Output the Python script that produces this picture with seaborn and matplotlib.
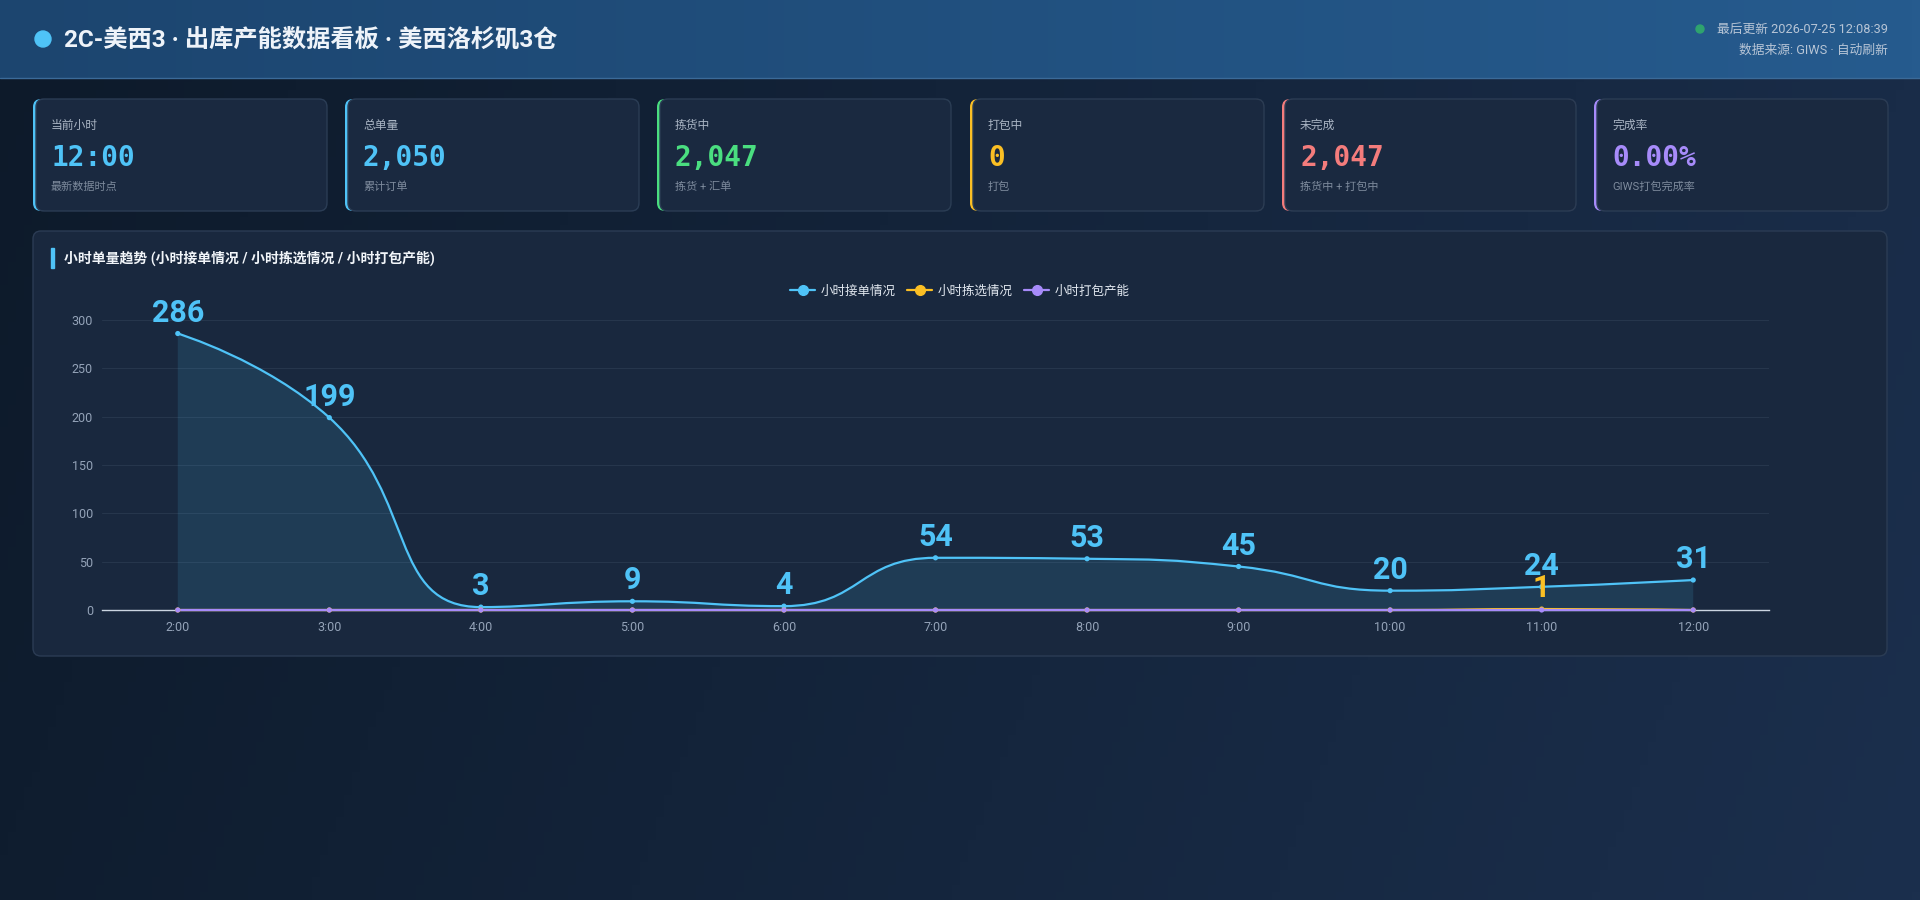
import numpy as np
import pandas as pd
import seaborn as sns
import matplotlib.pyplot as plt
from matplotlib.patches import FancyBboxPatch, Rectangle, Circle, PathPatch
from matplotlib.path import Path
from matplotlib.lines import Line2D
from matplotlib.colors import to_rgb

sns.set_theme(style='dark')
plt.rcParams['font.family'] = ['Roboto', 'Noto Sans CJK SC', 'DejaVu Sans']
plt.rcParams['axes.unicode_minus'] = False

# ---- data ----
hours = ['2:00', '3:00', '4:00', '5:00', '6:00', '7:00', '8:00', '9:00', '10:00', '11:00', '12:00']
order_cnt = [286, 199, 3, 9, 4, 54, 53, 45, 20, 24, 31]
pick_cnt = [0, 0, 0, 0, 0, 0, 0, 0, 0, 1, 0]
pack_cnt = [0, 0, 0, 0, 0, 0, 0, 0, 0, 0, 0]
series_names = ['小时接单情况', '小时拣选情况', '小时打包产能']
series_colors = ['#4fc3f7', '#fbbf24', '#a78bfa']

card_titles = ['当前小时', '总单量', '拣货中', '打包中', '未完成', '完成率']
card_values = ['12:00', '2,050', '2,047', '0', '2,047', '0.00%']
card_subs = ['最新数据时点', '累计订单', '拣货 + 汇单', '打包', '拣货中 + 打包中', 'GIWS打包完成率']
card_colors = ['#4fc3f7', '#4fc3f7', '#4ade80', '#fbbf24', '#f47c7c', '#a78bfa']

title = '2C-美西3 · 出库产能数据看板 · 美西洛杉矶3仓'
update_text = '最后更新 2026-07-25 12:08:39'
source_text = '数据来源: GIWS · 自动刷新'
chart_title = '小时单量趋势 (小时接单情况 / 小时拣选情况 / 小时打包产能)'

W, H = 1920, 900
fig = plt.figure(figsize=(W / 100, H / 100), dpi=100)

# page background in pixel coordinates
bg = fig.add_axes([0, 0, 1, 1])
bg.set_xlim(0, W)
bg.set_ylim(H, 0)
bg.axis('off')

c0, c1 = np.array(to_rgb('#0d1a2a')), np.array(to_rgb('#1b2f4d'))
gx, gy = np.meshgrid(np.linspace(0, 1, 240), np.linspace(0, 1, 120))
t = np.clip(gx * 0.85 + gy * 0.15, 0, 1)[..., None]
bg.imshow(c0 + (c1 - c0) * t, extent=(0, W, H, 0), aspect='auto', zorder=0)

h0, h1 = np.array(to_rgb('#1c456f')), np.array(to_rgb('#265b8e'))
t = np.linspace(0, 1, 240)[None, :, None]
bg.imshow(h0 + (h1 - h0) * t, extent=(0, W, 78, 0), aspect='auto', zorder=1)
bg.plot([0, W], [78, 78], color='#3b6a98', lw=1, zorder=2)

# header
bg.add_patch(Circle((43, 39), 8, color='#4fc3f7', zorder=3))
bg.text(64, 40, title, fontsize=17.5, fontweight='bold', color='#eef3f9', va='center', ha='left', zorder=3)
bg.add_patch(Circle((1700, 29), 4, color='#2fa36e', zorder=3))
bg.text(1888, 29, update_text, fontsize=9.2, color='#b7c5d6', va='center', ha='right', zorder=3)
bg.text(1888, 50, source_text, fontsize=9.2, color='#b7c5d6', va='center', ha='right', zorder=3)

# cards
card_x = [33, 345, 657, 970, 1282, 1594]
for i in range(6):
    x0 = card_x[i]
    y0, w, h = 99, 294, 112
    bg.add_patch(FancyBboxPatch((x0, y0), w, h, boxstyle='round,pad=0,rounding_size=8',
                                fc=card_colors[i], ec='none', zorder=3))
    bg.add_patch(FancyBboxPatch((x0 + 3, y0), w - 3, h, boxstyle='round,pad=0,rounding_size=8',
                                fc='#1a2940', ec='#2b3c54', lw=1, zorder=4))
    bg.text(x0 + 18, 125, card_titles[i], fontsize=8.5, color='#aab5c4', va='center', zorder=5)
    bg.text(x0 + 18, 158, card_values[i], fontsize=20, fontweight='bold', family='DejaVu Sans Mono',
            color=card_colors[i], va='center', zorder=5)
    bg.text(x0 + 18, 187, card_subs[i], fontsize=8, color='#7e8b9d', va='center', zorder=5)

# chart panel
bg.add_patch(FancyBboxPatch((33, 231), 1854, 425, boxstyle='round,pad=0,rounding_size=8',
                            fc='#19283e', ec='#2b3c54', lw=1, zorder=3))
bg.add_patch(Rectangle((51, 248), 3, 20, color='#4fc3f7', zorder=4))
bg.text(64, 258, chart_title, fontsize=10, fontweight='bold', color='#f1f5f9', va='center', zorder=4)

# chart axes
ax = fig.add_axes([102 / W, 1 - 610 / H, (1769 - 102) / W, (610 - 320) / H])
ax.set_facecolor('none')
ax.set_xlim(-0.5, len(hours) - 0.5)
ax.set_ylim(0, 300)
ax.set_yticks(range(0, 301, 50))
ax.set_xticks(range(len(hours)))
ax.set_xticklabels(hours)
ax.set_xticks(np.arange(-0.5, len(hours), 1.0), minor=True)
for s in ['top', 'right', 'left']:
    ax.spines[s].set_visible(False)
ax.spines['bottom'].set_color('#cbd5e1')
ax.spines['bottom'].set_linewidth(1)
ax.tick_params(axis='y', length=0, pad=6.5, labelsize=9, labelcolor='#94a3b8')
ax.tick_params(axis='x', which='major', length=0, pad=8, labelsize=9, labelcolor='#94a3b8')
ax.tick_params(axis='x', which='minor', length=3.6, width=1, color='#cbd5e1', direction='out')
ax.grid(axis='y', color='#26364c', lw=0.8)
ax.grid(axis='x', visible=False)
ax.set_axisbelow(True)


def smooth_path(xs, ys, smooth=0.5):
    # echarts style bezier through the data points, built in pixel space
    pts = ax.transData.transform(np.column_stack([xs, ys]))
    verts, codes = [tuple(pts[0])], [Path.MOVETO]
    cp0 = pts[0]
    n = len(pts)
    for k in range(1, n):
        x, y = pts[k]
        px, py = pts[k - 1]
        if k == n - 1:
            cp1 = (x, y)
            nxt = (x, y)
        else:
            nx, ny = pts[k + 1]
            vx, vy = nx - px, ny - py
            lp = np.hypot(x - px, y - py)
            ln = np.hypot(nx - x, ny - y)
            r = ln / (ln + lp)
            ncx, ncy = x + vx * smooth * r, y + vy * smooth * r
            ncx = max(min(ncx, max(nx, x)), min(nx, x))
            ncy = max(min(ncy, max(ny, y)), min(ny, y))
            vx, vy = ncx - x, ncy - y
            c1x, c1y = x - vx * lp / ln, y - vy * lp / ln
            c1x = max(min(c1x, max(px, x)), min(px, x))
            c1y = max(min(c1y, max(py, y)), min(py, y))
            vx, vy = x - c1x, y - c1y
            cp1 = (c1x, c1y)
            nxt = (x + vx * ln / lp, y + vy * ln / lp)
        verts += [tuple(cp0), tuple(cp1), (x, y)]
        codes += [Path.CURVE4] * 3
        cp0 = nxt
    verts = ax.transData.inverted().transform(np.array(verts))
    return verts, codes


xs = np.arange(len(hours))
all_series = [order_cnt, pick_cnt, pack_cnt]
for vals, col in zip(all_series, series_colors):
    verts, codes = smooth_path(xs, vals)
    if vals is order_cnt:
        fverts = list(verts) + [(xs[-1], 0), (xs[0], 0), (xs[0], 0)]
        fcodes = list(codes) + [Path.LINETO, Path.LINETO, Path.CLOSEPOLY]
        ax.add_patch(PathPatch(Path(fverts, fcodes), fc=col, alpha=0.13, ec='none', zorder=2))
    ax.add_patch(PathPatch(Path(verts, codes), fc='none', ec=col, lw=1.6, zorder=3, clip_on=False))

df = pd.DataFrame({
    'hour': np.tile(xs, 3),
    'value': order_cnt + pick_cnt + pack_cnt,
    'series': np.repeat(series_names, len(hours)),
})
sns.scatterplot(data=df, x='hour', y='value', hue='series', palette=dict(zip(series_names, series_colors)),
                s=14, linewidth=0, legend=False, ax=ax, zorder=4, clip_on=False)
ax.set_xlabel('')
ax.set_ylabel('')

for vals, col in zip(all_series, series_colors):
    for i, v in enumerate(vals):
        if v > 0:
            ax.annotate(str(v), (i, v), xytext=(0, 8.5), textcoords='offset points', ha='center',
                        va='baseline', fontsize=22, fontweight='bold', color=col, zorder=6,
                        annotation_clip=False)

handles = [Line2D([0], [0], color=c, lw=1.6, marker='o', markersize=7) for c in series_colors]
fig.legend(handles, series_names, loc='center', bbox_to_anchor=(0.5, 1 - 291 / H), ncol=3,
           frameon=False, fontsize=9, labelcolor='#e2e8f0', handlelength=2.0, handletextpad=0.45,
           columnspacing=0.9)

fig.savefig('out.png', dpi=100)
